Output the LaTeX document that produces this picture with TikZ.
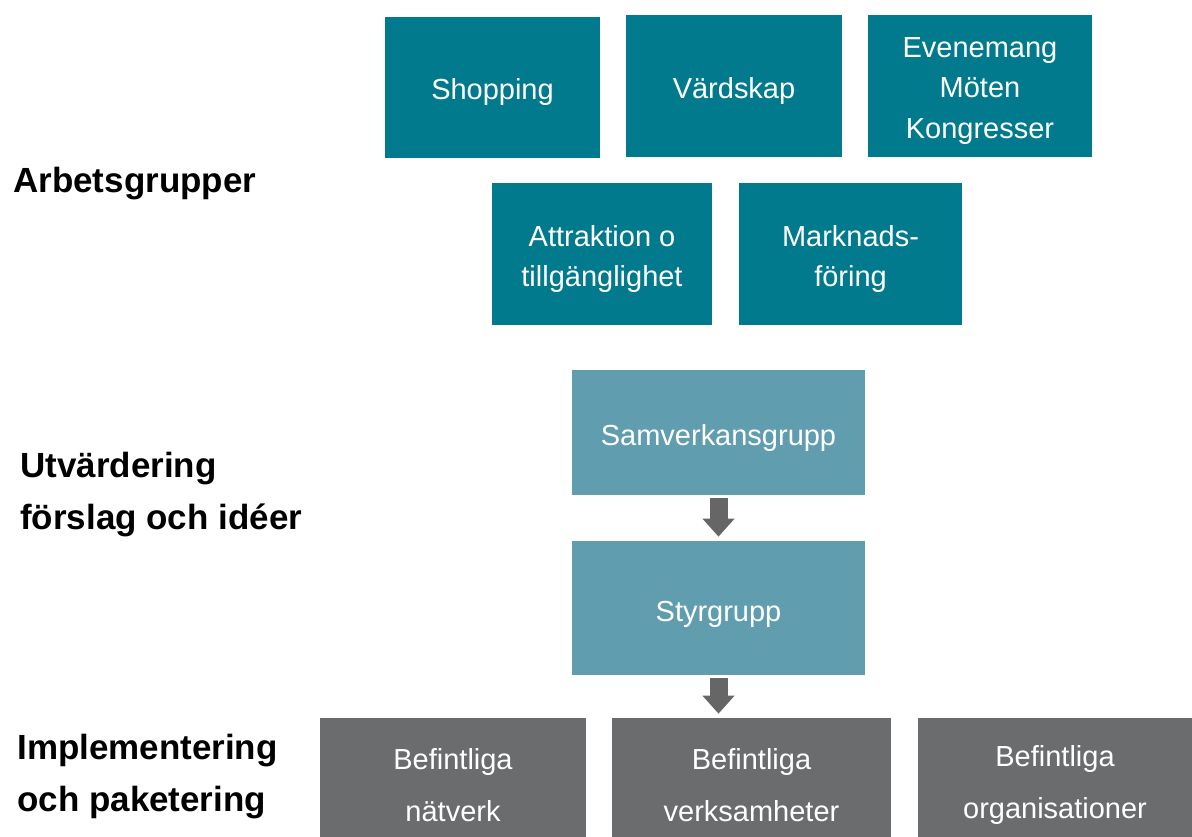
\documentclass[tikz,border=0pt]{standalone}
\usepackage{fontspec}
\setmainfont{Liberation Sans}
\usetikzlibrary{positioning,arrows.meta}
\definecolor{groupteal}{HTML}{007A8C}
\definecolor{evalteal}{HTML}{609DAE}
\definecolor{implgray}{HTML}{6A6C6E}
\definecolor{arrowgray}{HTML}{666666}

\begin{document}
\begin{tikzpicture}[x=0.02cm, y=-0.02cm,
  grp/.style={inner sep=0pt, fill=groupteal},
  grptxt/.style={text=white, align=center, inner sep=0pt, yshift=-0.1cm,
    font=\fontsize{16.5}{22.8}\selectfont},
  evalbox/.style={inner sep=0pt, fill=evalteal},
  evalboxtxt/.style={grptxt, yshift=-0.02cm},
  impl/.style={inner sep=0pt, fill=implgray},
  impltxt/.style={grptxt, yshift=-0.05cm,
    font=\fontsize{16.5}{29.6}\selectfont},
  lbl/.style={anchor=west, align=left, inner sep=0pt,
    font=\fontsize{19.9}{29.6}\selectfont\bfseries},
  flow/.style={arrowgray, line width=0.36cm, shorten <=0.06cm, shorten >=0.08cm,
    -{Triangle[width=0.62cm, length=0.36cm]}}]
\useasboundingbox (0,0) rectangle (1192,837);
% box: {name}{style}{centre}{width}{height}{text}
\newcommand{\orgbox}[6]{%
  \node[#2, minimum width=#4, minimum height=#5] (#1) at (#3) {};
  \node[#2txt] (#1-txt) at (#1.center) {#6};
}
% Arbetsgrupper
\orgbox{shop}{grp}{492.5,87.5}{4.30cm}{2.82cm}{Shopping}
\orgbox{vard}{grp}{734,86}{4.32cm}{2.84cm}{Värdskap}
\orgbox{even}{grp}{980,86}{4.48cm}{2.84cm}{Evenemang\\Möten\\Kongresser}
\orgbox{attr}{grp}{602,254}{4.40cm}{2.84cm}{Attraktion o\\tillgänglighet}
\orgbox{mark}{grp}{850.5,254}{4.46cm}{2.84cm}{Marknads-\\föring}
% Utvardering
\orgbox{samv}{evalbox}{718.5,432.5}{5.86cm}{2.50cm}{Samverkansgrupp}
\orgbox{styr}{evalbox}{718.5,608}{5.86cm}{2.68cm}{Styrgrupp}
% Implementering
\orgbox{natv}{impl}{453,777.5}{5.32cm}{2.38cm}{Befintliga\\nätverk}
\orgbox{verk}{impl}{751.5,777.5}{5.58cm}{2.38cm}{Befintliga\\verksamheter}
\orgbox{orgs}{impl}{1055,777.5}{5.48cm}{2.38cm}{Befintliga\\organisationer}
% arrows
\draw[flow] (samv.south) -- (styr.north);
\draw[flow] (styr.south) -- (styr.south |- verk.north);
% left labels
\node[lbl] (arbg) at (13,184) {Arbetsgrupper};
\node[lbl] (utv) at (20,495) {Utvärdering\\förslag och idéer};
\node[lbl] (imp) at (17,777) {Implementering\\och paketering};
\end{tikzpicture}
\end{document}
